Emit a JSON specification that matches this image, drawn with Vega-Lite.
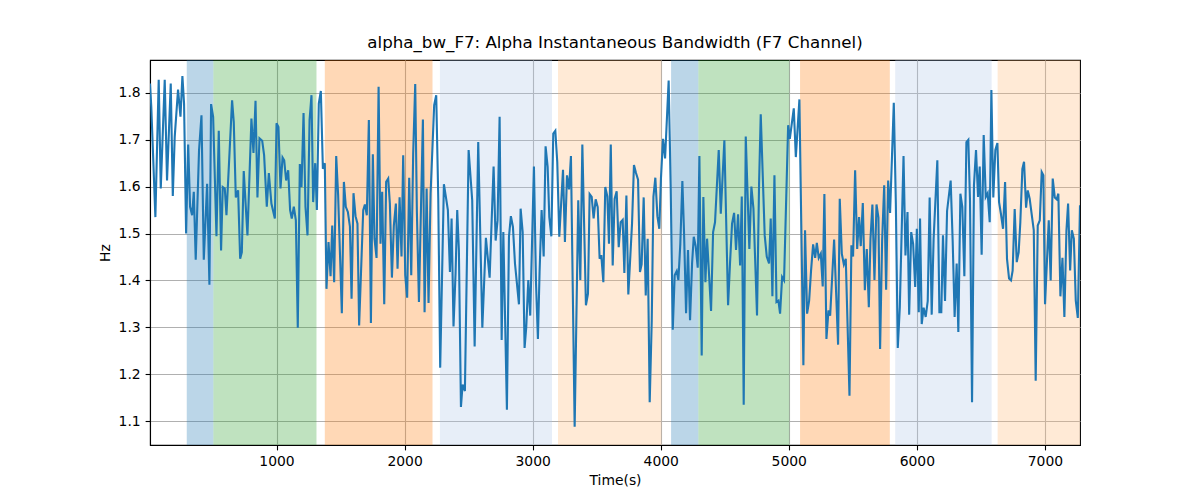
{
  "$schema": "https://vega.github.io/schema/vega-lite/v6.json",
  "width": 930,
  "height": 385,
  "autosize": {"type": "none"},
  "padding": {"left": 150, "top": 60, "right": 120, "bottom": 55},
  "background": "white",
  "config": {
    "font": "DejaVu Sans",
    "view": {"stroke": "black", "strokeWidth": 1.1},
    "axis": {
      "labelFont": "DejaVu Sans", "labelFontSize": 13.9, "labelColor": "black",
      "titleFont": "DejaVu Sans", "titleFontSize": 13.9, "titleFontWeight": "normal", "titleColor": "black",
      "domainColor": "black", "domainWidth": 1.1, "tickColor": "black", "tickWidth": 1.1, "tickSize": 4.9,
      "grid": true, "gridColor": "#b0b0b0", "gridWidth": 1.1, "labelPadding": 4.9
    }
  },
  "title": {"text": "alpha_bw_F7: Alpha Instantaneous Bandwidth (F7 Channel)", "font": "DejaVu Sans", "fontSize": 16.67, "fontWeight": "normal", "color": "black", "offset": 8},
  "datasets": {
    "bands": [
      {"start": 299, "end": 507, "c": "#1f77b4"},
      {"start": 507, "end": 1312, "c": "#2ca02c"},
      {"start": 1377, "end": 2218, "c": "#ff7f0e"},
      {"start": 2276, "end": 3151, "c": "#aec7e8"},
      {"start": 3198, "end": 4006, "c": "#ffbb78"},
      {"start": 4081, "end": 4294, "c": "#1f77b4"},
      {"start": 4294, "end": 5005, "c": "#2ca02c"},
      {"start": 5088, "end": 5789, "c": "#ff7f0e"},
      {"start": 5831, "end": 6584, "c": "#aec7e8"},
      {"start": 6631, "end": 7274, "c": "#ffbb78"}
    ],
    "series": [
      {"t":12,"v":1.82},{"t":22,"v":1.77},{"t":54,"v":1.535},{"t":80,"v":1.828},{"t":96,"v":1.596},{"t":127,"v":1.828},{"t":145,"v":1.613},{"t":174,"v":1.82},{"t":190,"v":1.58},{"t":205,"v":1.706},{"t":231,"v":1.807},{"t":250,"v":1.749},{"t":265,"v":1.836},{"t":278,"v":1.777},{"t":294,"v":1.5},{"t":310,"v":1.69},{"t":325,"v":1.557},{"t":341,"v":1.539},{"t":354,"v":1.589},{"t":369,"v":1.444},{"t":395,"v":1.678},{"t":414,"v":1.752},{"t":432,"v":1.444},{"t":458,"v":1.606},{"t":476,"v":1.391},{"t":489,"v":1.776},{"t":505,"v":1.749},{"t":531,"v":1.494},{"t":549,"v":1.719},{"t":567,"v":1.464},{"t":580,"v":1.599},{"t":596,"v":1.596},{"t":609,"v":1.539},{"t":653,"v":1.784},{"t":666,"v":1.738},{"t":682,"v":1.577},{"t":700,"v":1.592},{"t":716,"v":1.446},{"t":729,"v":1.46},{"t":744,"v":1.633},{"t":773,"v":1.496},{"t":804,"v":1.745},{"t":820,"v":1.672},{"t":836,"v":1.783},{"t":851,"v":1.577},{"t":867,"v":1.703},{"t":888,"v":1.698},{"t":903,"v":1.667},{"t":924,"v":1.557},{"t":940,"v":1.629},{"t":960,"v":1.564},{"t":987,"v":1.532},{"t":1000,"v":1.735},{"t":1015,"v":1.727},{"t":1031,"v":1.596},{"t":1047,"v":1.662},{"t":1060,"v":1.656},{"t":1075,"v":1.613},{"t":1091,"v":1.635},{"t":1106,"v":1.55},{"t":1119,"v":1.532},{"t":1135,"v":1.557},{"t":1151,"v":1.528},{"t":1166,"v":1.299},{"t":1182,"v":1.648},{"t":1195,"v":1.599},{"t":1211,"v":1.757},{"t":1226,"v":1.557},{"t":1242,"v":1.496},{"t":1258,"v":1.742},{"t":1273,"v":1.795},{"t":1286,"v":1.567},{"t":1302,"v":1.65},{"t":1315,"v":1.55},{"t":1330,"v":1.777},{"t":1346,"v":1.804},{"t":1362,"v":1.638},{"t":1377,"v":1.65},{"t":1390,"v":1.382},{"t":1406,"v":1.482},{"t":1422,"v":1.409},{"t":1435,"v":1.517},{"t":1450,"v":1.396},{"t":1466,"v":1.665},{"t":1481,"v":1.582},{"t":1510,"v":1.33},{"t":1526,"v":1.61},{"t":1541,"v":1.557},{"t":1557,"v":1.546},{"t":1573,"v":1.515},{"t":1586,"v":1.361},{"t":1601,"v":1.586},{"t":1617,"v":1.537},{"t":1632,"v":1.521},{"t":1645,"v":1.304},{"t":1677,"v":1.55},{"t":1690,"v":1.562},{"t":1705,"v":1.539},{"t":1721,"v":1.742},{"t":1737,"v":1.309},{"t":1752,"v":1.669},{"t":1765,"v":1.489},{"t":1781,"v":1.448},{"t":1797,"v":1.813},{"t":1812,"v":1.478},{"t":1825,"v":1.589},{"t":1841,"v":1.349},{"t":1856,"v":1.61},{"t":1872,"v":1.617},{"t":1885,"v":1.564},{"t":1901,"v":1.406},{"t":1916,"v":1.517},{"t":1932,"v":1.564},{"t":1945,"v":1.425},{"t":1961,"v":1.577},{"t":1976,"v":1.451},{"t":1989,"v":1.667},{"t":2005,"v":1.411},{"t":2020,"v":1.363},{"t":2036,"v":1.619},{"t":2052,"v":1.411},{"t":2067,"v":1.67},{"t":2083,"v":1.819},{"t":2096,"v":1.546},{"t":2112,"v":1.354},{"t":2143,"v":1.743},{"t":2156,"v":1.332},{"t":2172,"v":1.596},{"t":2187,"v":1.352},{"t":2203,"v":1.585},{"t":2231,"v":1.774},{"t":2247,"v":1.795},{"t":2263,"v":1.574},{"t":2278,"v":1.214},{"t":2307,"v":1.605},{"t":2323,"v":1.577},{"t":2338,"v":1.55},{"t":2354,"v":1.418},{"t":2367,"v":1.532},{"t":2382,"v":1.302},{"t":2398,"v":1.415},{"t":2411,"v":1.55},{"t":2424,"v":1.464},{"t":2440,"v":1.13},{"t":2453,"v":1.178},{"t":2471,"v":1.164},{"t":2500,"v":1.678},{"t":2528,"v":1.571},{"t":2547,"v":1.259},{"t":2575,"v":1.695},{"t":2607,"v":1.299},{"t":2635,"v":1.491},{"t":2664,"v":1.406},{"t":2695,"v":1.643},{"t":2711,"v":1.485},{"t":2726,"v":1.528},{"t":2742,"v":1.749},{"t":2758,"v":1.273},{"t":2771,"v":1.503},{"t":2799,"v":1.124},{"t":2815,"v":1.493},{"t":2830,"v":1.537},{"t":2846,"v":1.514},{"t":2862,"v":1.436},{"t":2893,"v":1.349},{"t":2906,"v":1.553},{"t":2922,"v":1.503},{"t":2937,"v":1.256},{"t":2950,"v":1.3},{"t":2966,"v":1.401},{"t":2981,"v":1.325},{"t":3010,"v":1.643},{"t":3026,"v":1.396},{"t":3041,"v":1.275},{"t":3054,"v":1.418},{"t":3070,"v":1.55},{"t":3086,"v":1.451},{"t":3101,"v":1.686},{"t":3117,"v":1.642},{"t":3130,"v":1.535},{"t":3146,"v":1.494},{"t":3161,"v":1.713},{"t":3177,"v":1.719},{"t":3192,"v":1.653},{"t":3208,"v":1.493},{"t":3237,"v":1.636},{"t":3252,"v":1.482},{"t":3268,"v":1.624},{"t":3284,"v":1.594},{"t":3299,"v":1.665},{"t":3328,"v":1.088},{"t":3356,"v":1.571},{"t":3372,"v":1.401},{"t":3388,"v":1.69},{"t":3416,"v":1.347},{"t":3432,"v":1.372},{"t":3445,"v":1.584},{"t":3461,"v":1.578},{"t":3476,"v":1.532},{"t":3492,"v":1.573},{"t":3508,"v":1.556},{"t":3523,"v":1.446},{"t":3536,"v":1.454},{"t":3552,"v":1.396},{"t":3567,"v":1.599},{"t":3583,"v":1.579},{"t":3596,"v":1.478},{"t":3610,"v":1.69},{"t":3625,"v":1.432},{"t":3640,"v":1.574},{"t":3656,"v":1.59},{"t":3672,"v":1.471},{"t":3687,"v":1.524},{"t":3703,"v":1.529},{"t":3716,"v":1.416},{"t":3732,"v":1.581},{"t":3747,"v":1.37},{"t":3776,"v":1.521},{"t":3791,"v":1.646},{"t":3807,"v":1.629},{"t":3823,"v":1.615},{"t":3838,"v":1.418},{"t":3851,"v":1.434},{"t":3867,"v":1.577},{"t":3883,"v":1.368},{"t":3898,"v":1.489},{"t":3914,"v":1.14},{"t":3930,"v":1.315},{"t":3943,"v":1.578},{"t":3958,"v":1.619},{"t":3974,"v":1.537},{"t":3989,"v":1.51},{"t":4002,"v":1.619},{"t":4018,"v":1.702},{"t":4034,"v":1.66},{"t":4062,"v":1.826},{"t":4078,"v":1.596},{"t":4094,"v":1.295},{"t":4109,"v":1.411},{"t":4125,"v":1.42},{"t":4138,"v":1.401},{"t":4153,"v":1.478},{"t":4169,"v":1.612},{"t":4182,"v":1.503},{"t":4198,"v":1.33},{"t":4213,"v":1.465},{"t":4229,"v":1.315},{"t":4245,"v":1.437},{"t":4258,"v":1.493},{"t":4273,"v":1.473},{"t":4289,"v":1.427},{"t":4302,"v":1.665},{"t":4320,"v":1.24},{"t":4333,"v":1.578},{"t":4349,"v":1.396},{"t":4362,"v":1.489},{"t":4393,"v":1.335},{"t":4409,"v":1.503},{"t":4424,"v":1.524},{"t":4453,"v":1.678},{"t":4469,"v":1.542},{"t":4497,"v":1.699},{"t":4526,"v":1.347},{"t":4541,"v":1.436},{"t":4557,"v":1.521},{"t":4573,"v":1.544},{"t":4588,"v":1.465},{"t":4604,"v":1.541},{"t":4620,"v":1.432},{"t":4633,"v":1.579},{"t":4648,"v":1.135},{"t":4664,"v":1.707},{"t":4692,"v":1.467},{"t":4708,"v":1.6},{"t":4724,"v":1.553},{"t":4752,"v":1.325},{"t":4768,"v":1.606},{"t":4781,"v":1.754},{"t":4812,"v":1.496},{"t":4828,"v":1.451},{"t":4846,"v":1.436},{"t":4859,"v":1.532},{"t":4872,"v":1.366},{"t":4888,"v":1.624},{"t":4904,"v":1.354},{"t":4919,"v":1.357},{"t":4932,"v":1.329},{"t":4948,"v":1.407},{"t":4963,"v":1.4},{"t":4995,"v":1.731},{"t":5008,"v":1.702},{"t":5039,"v":1.767},{"t":5055,"v":1.663},{"t":5083,"v":1.786},{"t":5114,"v":1.219},{"t":5127,"v":1.507},{"t":5143,"v":1.329},{"t":5159,"v":1.357},{"t":5174,"v":1.421},{"t":5190,"v":1.477},{"t":5206,"v":1.448},{"t":5219,"v":1.48},{"t":5234,"v":1.448},{"t":5250,"v":1.457},{"t":5265,"v":1.387},{"t":5278,"v":1.584},{"t":5294,"v":1.275},{"t":5310,"v":1.336},{"t":5323,"v":1.325},{"t":5354,"v":1.487},{"t":5385,"v":1.263},{"t":5398,"v":1.574},{"t":5414,"v":1.457},{"t":5430,"v":1.434},{"t":5445,"v":1.446},{"t":5474,"v":1.154},{"t":5489,"v":1.475},{"t":5502,"v":1.451},{"t":5518,"v":1.635},{"t":5534,"v":1.467},{"t":5549,"v":1.535},{"t":5562,"v":1.473},{"t":5578,"v":1.565},{"t":5594,"v":1.379},{"t":5609,"v":1.467},{"t":5625,"v":1.343},{"t":5638,"v":1.489},{"t":5653,"v":1.562},{"t":5669,"v":1.401},{"t":5685,"v":1.562},{"t":5700,"v":1.534},{"t":5713,"v":1.254},{"t":5729,"v":1.485},{"t":5745,"v":1.603},{"t":5760,"v":1.38},{"t":5776,"v":1.613},{"t":5791,"v":1.544},{"t":5820,"v":1.779},{"t":5836,"v":1.564},{"t":5851,"v":1.256},{"t":5867,"v":1.343},{"t":5896,"v":1.665},{"t":5911,"v":1.453},{"t":5927,"v":1.546},{"t":5940,"v":1.327},{"t":5956,"v":1.503},{"t":5971,"v":1.478},{"t":5987,"v":1.386},{"t":6000,"v":1.51},{"t":6015,"v":1.332},{"t":6025,"v":1.532},{"t":6038,"v":1.307},{"t":6053,"v":1.342},{"t":6069,"v":1.322},{"t":6085,"v":1.356},{"t":6100,"v":1.577},{"t":6116,"v":1.327},{"t":6131,"v":1.489},{"t":6160,"v":1.656},{"t":6176,"v":1.332},{"t":6191,"v":1.332},{"t":6204,"v":1.496},{"t":6220,"v":1.356},{"t":6236,"v":1.548},{"t":6264,"v":1.613},{"t":6280,"v":1.482},{"t":6295,"v":1.322},{"t":6311,"v":1.436},{"t":6324,"v":1.29},{"t":6340,"v":1.585},{"t":6355,"v":1.557},{"t":6371,"v":1.409},{"t":6387,"v":1.695},{"t":6402,"v":1.7},{"t":6415,"v":1.571},{"t":6431,"v":1.14},{"t":6446,"v":1.603},{"t":6462,"v":1.678},{"t":6478,"v":1.578},{"t":6491,"v":1.643},{"t":6506,"v":1.455},{"t":6522,"v":1.71},{"t":6538,"v":1.578},{"t":6553,"v":1.586},{"t":6569,"v":1.524},{"t":6582,"v":1.806},{"t":6597,"v":1.577},{"t":6613,"v":1.678},{"t":6629,"v":1.693},{"t":6642,"v":1.567},{"t":6657,"v":1.541},{"t":6673,"v":1.51},{"t":6689,"v":1.61},{"t":6704,"v":1.446},{"t":6720,"v":1.404},{"t":6735,"v":1.4},{"t":6748,"v":1.421},{"t":6764,"v":1.552},{"t":6780,"v":1.439},{"t":6795,"v":1.46},{"t":6808,"v":1.524},{"t":6824,"v":1.638},{"t":6837,"v":1.653},{"t":6853,"v":1.555},{"t":6866,"v":1.592},{"t":6881,"v":1.574},{"t":6913,"v":1.507},{"t":6928,"v":1.186},{"t":6944,"v":1.517},{"t":6960,"v":1.528},{"t":6975,"v":1.631},{"t":6988,"v":1.624},{"t":7001,"v":1.349},{"t":7030,"v":1.528},{"t":7045,"v":1.4},{"t":7061,"v":1.617},{"t":7077,"v":1.577},{"t":7092,"v":1.573},{"t":7105,"v":1.585},{"t":7121,"v":1.366},{"t":7137,"v":1.448},{"t":7152,"v":1.322},{"t":7168,"v":1.506},{"t":7181,"v":1.564},{"t":7197,"v":1.421},{"t":7210,"v":1.507},{"t":7226,"v":1.489},{"t":7241,"v":1.357},{"t":7257,"v":1.32},{"t":7274,"v":1.56}
    ]
  },
  "layer": [
    {
      "data": {"name": "bands"},
      "mark": {"type": "rect", "opacity": 0.3, "clip": true},
      "encoding": {
        "x": {"field": "start", "type": "quantitative", "scale": {"domain": [12, 7274], "nice": false, "zero": false},
              "axis": {"title": "Time(s)", "values": [1000, 2000, 3000, 4000, 5000, 6000, 7000], "format": "d", "titlePadding": 5}},
        "x2": {"field": "end"},
        "color": {"field": "c", "type": "nominal", "scale": null, "legend": null}
      }
    },
    {
      "data": {"name": "series"},
      "mark": {"type": "line", "color": "#1f77b4", "strokeWidth": 2.1, "clip": true},
      "encoding": {
        "x": {"field": "t", "type": "quantitative"},
        "y": {"field": "v", "type": "quantitative", "scale": {"domain": [1.049, 1.870], "nice": false, "zero": false},
              "axis": {"title": "Hz", "values": [1.1, 1.2, 1.3, 1.4, 1.5, 1.6, 1.7, 1.8], "format": ".1f", "titlePadding": 6}}
      }
    }
  ]
}
